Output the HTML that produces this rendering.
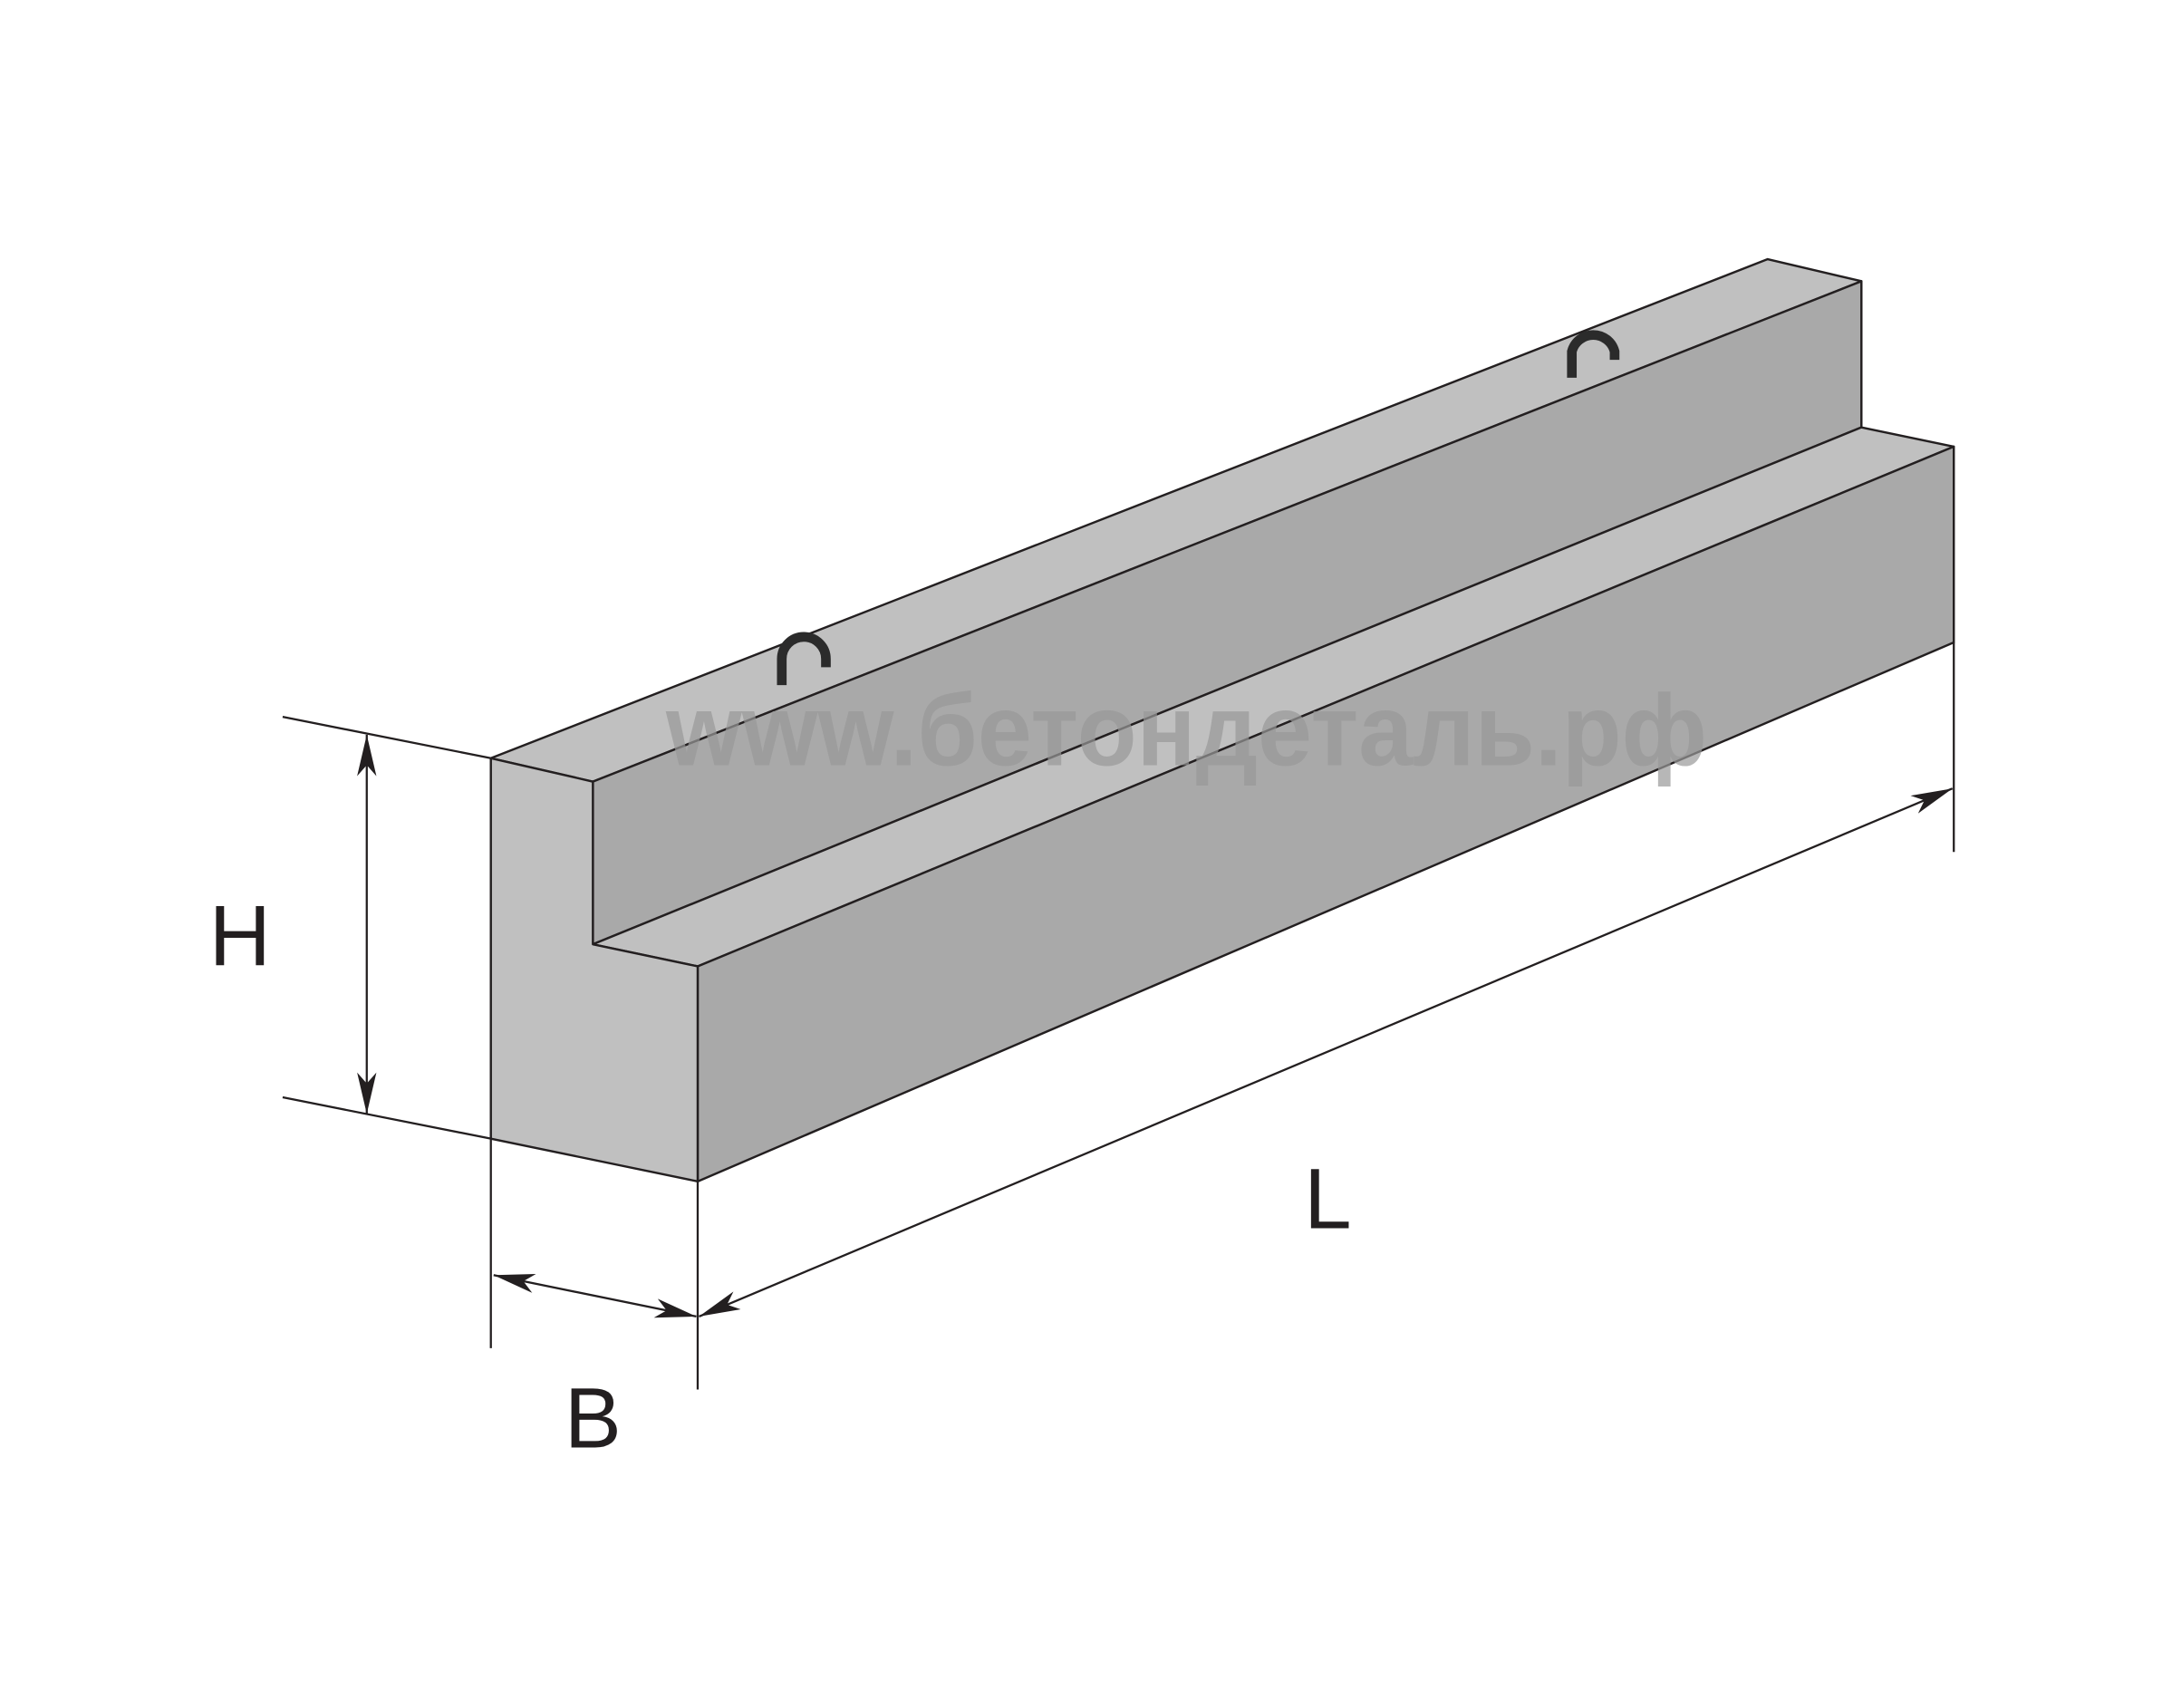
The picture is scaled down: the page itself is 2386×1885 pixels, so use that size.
<!DOCTYPE html>
<html><head><meta charset="utf-8"><style>html,body{margin:0;padding:0;background:#fff}svg{display:block}</style></head>
<body>
<svg width="2386" height="1885" viewBox="0 0 1568 1239" preserveAspectRatio="none" xmlns="http://www.w3.org/2000/svg">
<defs>
<marker id="a" viewBox="0 0 30 14" refX="30" refY="7" markerWidth="30" markerHeight="14" markerUnits="userSpaceOnUse" orient="auto-start-reverse">
<path d="M0,0 L30,7 L0,14 L8,7 z" fill="#231f20"/></marker>
</defs>
<g stroke="#231f20" stroke-width="1.6" stroke-linejoin="round">
<polygon points="356,550 1282,188 1350,204 430,567" fill="#c0c0c0"/>
<polygon points="430,567 1350,204 1350,310 430,685" fill="#a9a9a9"/>
<polygon points="430,685 1350,310 1417,324 506,701" fill="#c0c0c0"/>
<polygon points="506,701 1417,324 1417,466 506,857" fill="#a9a9a9"/>
<polygon points="356,550 430,567 430,685 506,701 506,857 356,826" fill="#c0c0c0"/>
</g>
<g fill="none" stroke="#2b2b2b" stroke-width="7">
<path d="M567,497 V478 A16,16 0 0 1 599,478 V484"/>
<path d="M1140,274 V255 A16,16 0 0 1 1171,255 V261"/>
</g>
<text x="483" y="555" textLength="755" lengthAdjust="spacingAndGlyphs" font-family="Liberation Sans, DejaVu Sans, sans-serif" font-weight="bold" font-size="74" fill="#999" fill-opacity="0.7">www.бетондеталь.рф</text>
<g stroke="#231f20" stroke-width="1.5" fill="none">
<line x1="205" y1="520" x2="356" y2="550"/>
<line x1="205" y1="796" x2="356" y2="826"/>
<line x1="356" y1="826" x2="356" y2="978"/>
<line x1="506" y1="857" x2="506" y2="1008"/>
<line x1="1417" y1="466" x2="1417" y2="618"/>
<line x1="266" y1="533" x2="266" y2="808" marker-start="url(#a)" marker-end="url(#a)"/>
<line x1="358" y1="925" x2="505" y2="955" marker-start="url(#a)" marker-end="url(#a)"/>
<line x1="507" y1="955" x2="1416" y2="572" marker-start="url(#a)" marker-end="url(#a)"/>
</g>
<g font-family="Liberation Sans, DejaVu Sans, sans-serif" font-size="62" fill="#231f20" text-anchor="middle">
<text x="174" y="700">H</text>
<text x="963" y="891">L</text>
<text x="430" y="1050">B</text>
</g>
</svg>
</body></html>
